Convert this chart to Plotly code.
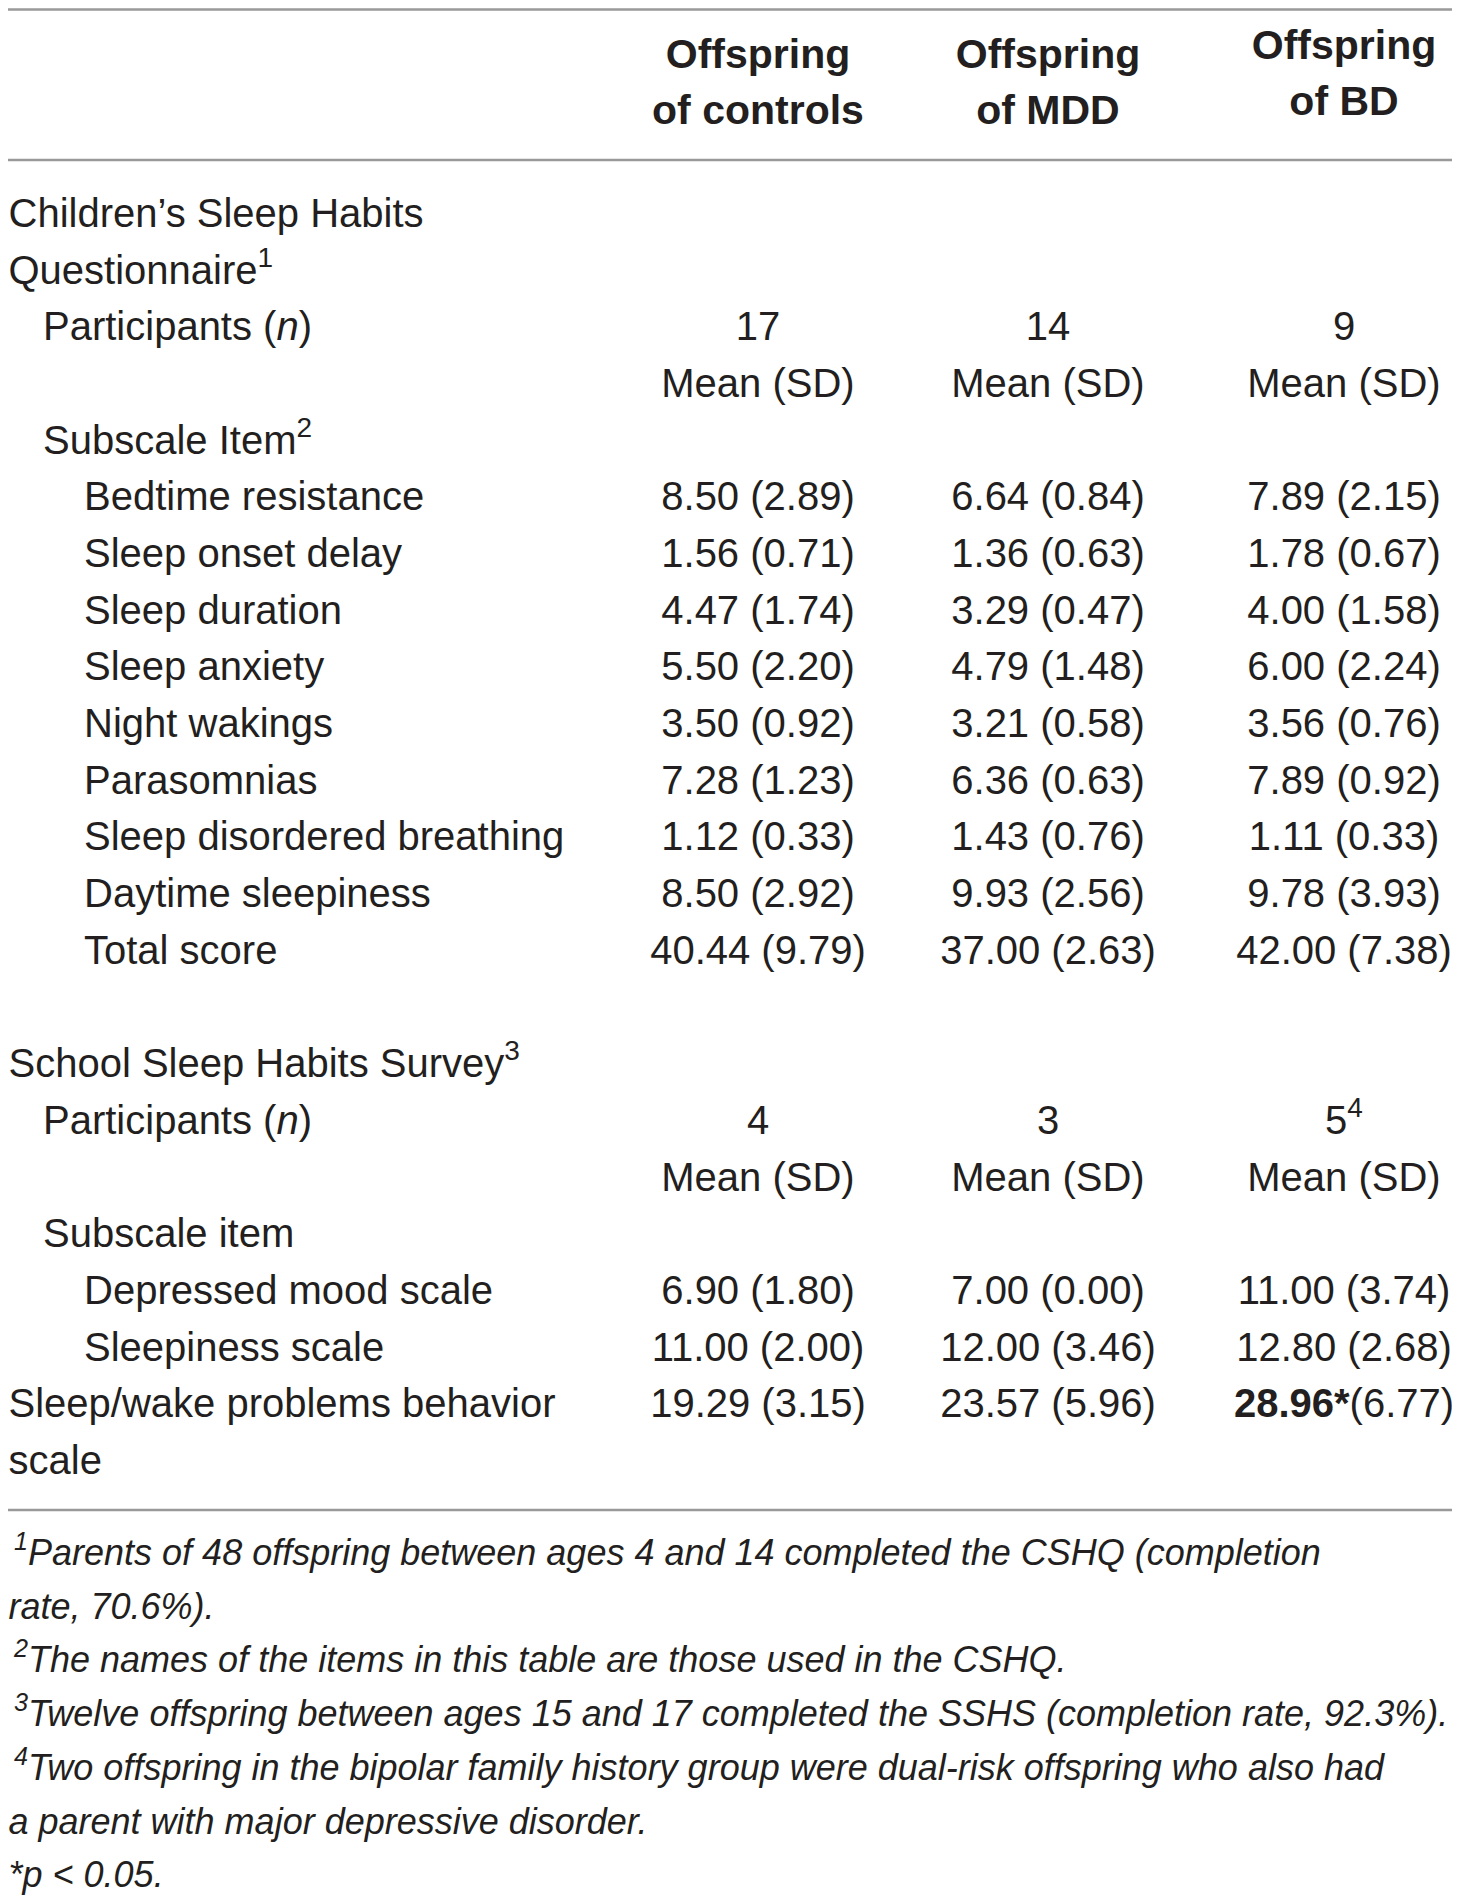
import plotly.graph_objects as go

# column headers
header_top = ["Offspring", "Offspring", "Offspring"]
header_bottom = ["of controls", "of MDD", "of BD"]

# table body, one entry per text row
labels = [
    "Children’s Sleep Habits",
    "Questionnaire<sup>1</sup>",
    "Participants (<i>n</i>)",
    "",
    "Subscale Item<sup>2</sup>",
    "Bedtime resistance",
    "Sleep onset delay",
    "Sleep duration",
    "Sleep anxiety",
    "Night wakings",
    "Parasomnias",
    "Sleep disordered breathing",
    "Daytime sleepiness",
    "Total score",
    "",
    "School Sleep Habits Survey<sup>3</sup>",
    "Participants (<i>n</i>)",
    "",
    "Subscale item",
    "Depressed mood scale",
    "Sleepiness scale",
    "Sleep/wake problems behavior",
    "scale",
]
indent = [0, 0, 1, 0, 1, 2, 2, 2, 2, 2, 2, 2, 2, 2, 0, 0, 1, 0, 1, 2, 2, 0, 0]

controls = [
    "", "", "17", "Mean (SD)", "",
    "8.50 (2.89)", "1.56 (0.71)", "4.47 (1.74)", "5.50 (2.20)", "3.50 (0.92)",
    "7.28 (1.23)", "1.12 (0.33)", "8.50 (2.92)", "40.44 (9.79)",
    "", "", "4", "Mean (SD)", "",
    "6.90 (1.80)", "11.00 (2.00)", "19.29 (3.15)", "",
]
mdd = [
    "", "", "14", "Mean (SD)", "",
    "6.64 (0.84)", "1.36 (0.63)", "3.29 (0.47)", "4.79 (1.48)", "3.21 (0.58)",
    "6.36 (0.63)", "1.43 (0.76)", "9.93 (2.56)", "37.00 (2.63)",
    "", "", "3", "Mean (SD)", "",
    "7.00 (0.00)", "12.00 (3.46)", "23.57 (5.96)", "",
]
bd = [
    "", "", "9", "Mean (SD)", "",
    "7.89 (2.15)", "1.78 (0.67)", "4.00 (1.58)", "6.00 (2.24)", "3.56 (0.76)",
    "7.89 (0.92)", "1.11 (0.33)", "9.78 (3.93)", "42.00 (7.38)",
    "", "", "5<sup>4</sup>", "Mean (SD)", "",
    "11.00 (3.74)", "12.80 (2.68)", "<b>28.96*</b>(6.77)", "",
]

footnotes = [
    "<sup>1</sup>Parents of 48 offspring between ages 4 and 14 completed the CSHQ (completion",
    "rate, 70.6%).",
    "<sup>2</sup>The names of the items in this table are those used in the CSHQ.",
    "<sup>3</sup>Twelve offspring between ages 15 and 17 completed the SSHS (completion rate, 92.3%).",
    "<sup>4</sup>Two offspring in the bipolar family history group were dual-risk offspring who also had",
    "a parent with major depressive disorder.",
    "*<i>p</i> < 0.05.",
]
footnote_indent = [1, 0, 1, 1, 1, 0, 0]

# layout, in page pixels (the html body has an 8px margin, so the axes
# start at 8 and one data unit is one screen pixel)
W, H = 1460, 1895
PAD = 8
FONT = "Liberation Sans, Arial, Helvetica, sans-serif"
INK = "#231f20"
RULE = "#999999"
col_x = [758, 1048, 1344]
indent_x = [8.5, 43, 84]
foot_x = [8.5, 14]
row_y0, row_h = 217, 56.68
head_y = [58, 114]
head_shift = [0, 0, -9]
foot_y0, foot_h = 1556, 53.7
rules_y = [9.5, 160, 1510]

row_y = [row_y0 + i * row_h for i in range(len(labels))]

fig = go.Figure()

for level, dx in enumerate(indent_x):
    idx = [i for i, lv in enumerate(indent) if lv == level and labels[i]]
    fig.add_trace(go.Scatter(
        x=[dx] * len(idx), y=[row_y[i] for i in idx],
        text=[labels[i] for i in idx],
        mode="text", textposition="middle right", cliponaxis=False,
        textfont=dict(family=FONT, size=40, color=INK),
        hoverinfo="skip",
    ))

for cx, values in zip(col_x, [controls, mdd, bd]):
    idx = [i for i, v in enumerate(values) if v]
    fig.add_trace(go.Scatter(
        x=[cx] * len(idx), y=[row_y[i] for i in idx],
        text=[values[i] for i in idx],
        mode="text", textposition="middle center", cliponaxis=False,
        textfont=dict(family=FONT, size=40, color=INK),
        hoverinfo="skip",
    ))

for cx, top, bottom, dy in zip(col_x, header_top, header_bottom, head_shift):
    fig.add_trace(go.Scatter(
        x=[cx, cx], y=[head_y[0] + dy, head_y[1] + dy],
        text=[f"<b>{top}</b>", f"<b>{bottom}</b>"],
        mode="text", textposition="middle center", cliponaxis=False,
        textfont=dict(family=FONT, size=41, color=INK),
        hoverinfo="skip",
    ))

fig.add_trace(go.Scatter(
    x=[foot_x[f] for f in footnote_indent],
    y=[foot_y0 + k * foot_h for k in range(len(footnotes))],
    text=[f"<i>{t}</i>" for t in footnotes],
    mode="text", textposition="middle right", cliponaxis=False,
    textfont=dict(family=FONT, size=36, color=INK),
    hoverinfo="skip",
))

for ry in rules_y:
    fig.add_shape(type="line", xref="paper", x0=0, x1=1, yref="y", y0=ry, y1=ry,
                  line=dict(color=RULE, width=2.5))

fig.update_layout(
    width=W - PAD, height=H - PAD,
    margin=dict(l=0, r=0, t=0, b=0),
    paper_bgcolor="white", plot_bgcolor="white",
    showlegend=False,
    xaxis=dict(range=[PAD, W], visible=False, fixedrange=True),
    yaxis=dict(range=[H, PAD], visible=False, fixedrange=True),
)

fig.write_html("out.html")
